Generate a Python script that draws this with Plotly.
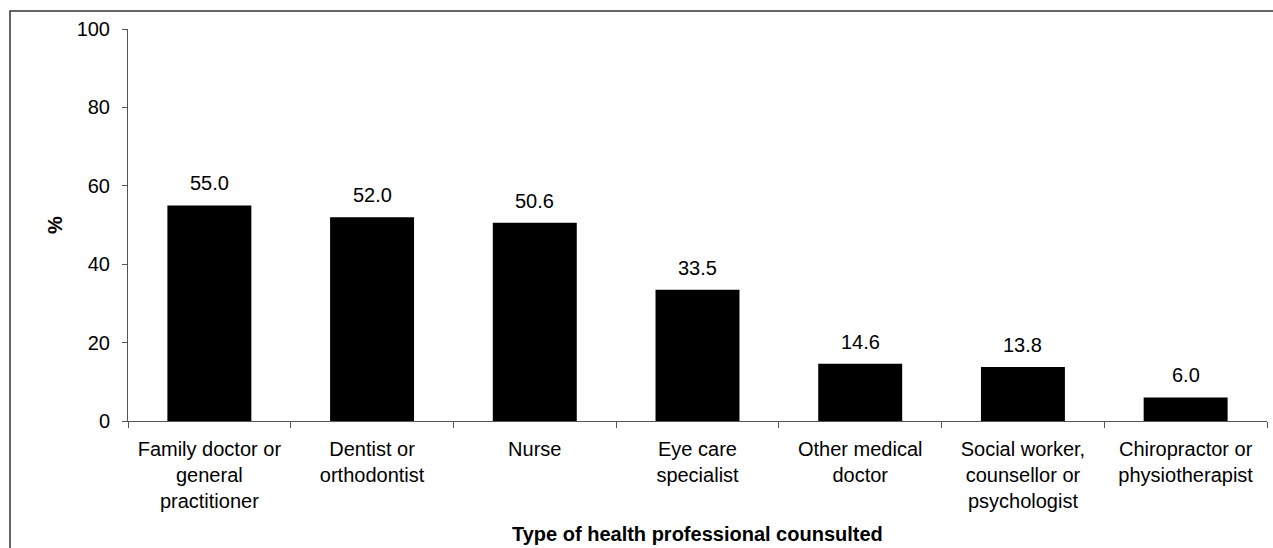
import plotly.graph_objects as go

categories = [
    "Family doctor or<br>general<br>practitioner",
    "Dentist or<br>orthodontist",
    "Nurse",
    "Eye care<br>specialist",
    "Other medical<br>doctor",
    "Social worker,<br>counsellor or<br>psychologist",
    "Chiropractor or<br>physiotherapist",
]
values = [55.0, 52.0, 50.6, 33.5, 14.6, 13.8, 6.0]
y_ticks = [0, 20, 40, 60, 80, 100]

FONT = "Liberation Sans, Arial, sans-serif"

fig = go.Figure(
    go.Bar(
        x=categories,
        y=values,
        marker=dict(color="#000000", line=dict(width=0)),
        showlegend=False,
        hoverinfo="skip",
    )
)

# value labels above bars
for c, v in zip(categories, values):
    fig.add_annotation(
        x=c, y=v, xref="x", yref="y",
        text=f"{v:.1f}", showarrow=False,
        yanchor="middle", yshift=22,
        font=dict(family=FONT, size=20, color="#000000"),
    )

# axis titles
fig.add_annotation(
    x=0.5, y=-0.288, xref="paper", yref="paper",
    text="<b>Type of health professional counsulted</b>", showarrow=False,
    xanchor="center", yanchor="middle",
    font=dict(family=FONT, size=20, color="#000000"),
)
fig.add_annotation(
    x=-0.064, y=0.5, xref="paper", yref="paper",
    text="<b>%</b>", showarrow=False, textangle=-90,
    xanchor="center", yanchor="middle",
    font=dict(family=FONT, size=20, color="#000000"),
)

# outer frame (extends beyond right/bottom edges)
fig.add_shape(
    type="rect", xref="paper", yref="paper",
    x0=-0.1036, x1=1.2, y0=-0.6, y1=1.0459,
    line=dict(color="#333333", width=1.5), fillcolor="rgba(0,0,0,0)",
    layer="below",
)

fig.update_layout(
    width=1273, height=548,
    margin=dict(l=128, r=6, t=29, b=127, autoexpand=False),
    paper_bgcolor="#ffffff", plot_bgcolor="#ffffff",
    bargap=0.484,
    font=dict(family=FONT, size=20, color="#000000"),
)

fig.update_xaxes(
    showline=True, linecolor="#555555", linewidth=1,
    ticks="outside", ticklen=6, tickcolor="#555555", tickwidth=1,
    tickson="boundaries",
    ticklabelstandoff=10,
    tickfont=dict(family=FONT, size=20, color="#000000"),
    showgrid=False, zeroline=False,
)
fig.update_yaxes(
    range=[0, 100], tickvals=y_ticks, ticktext=[str(t) for t in y_ticks],
    showline=True, linecolor="#555555", linewidth=1,
    ticks="outside", ticklen=5, tickcolor="#555555", tickwidth=1,
    ticklabelstandoff=8,
    tickfont=dict(family=FONT, size=20, color="#000000"),
    showgrid=False, zeroline=False,
)

fig.write_html(
    "out.html",
    config={"displayModeBar": False},
    post_script="document.body.style.margin='0';document.body.style.overflow='hidden';",
)
